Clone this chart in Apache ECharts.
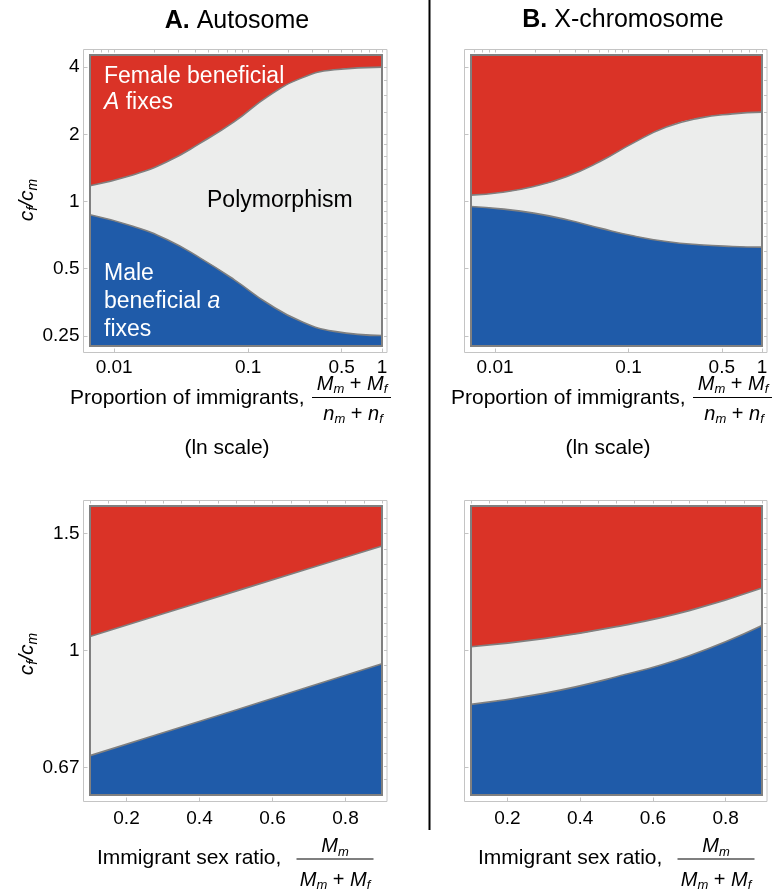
<!DOCTYPE html>
<html><head><meta charset="utf-8">
<script src="https://cdn.jsdelivr.net/npm/echarts@6/dist/echarts.min.js"></script>
<style>html,body{margin:0;padding:0;background:#fff}#c{width:782px;height:892px}</style>
</head><body><div id="c"></div>
<script>
// ---------------- data ----------------
// Top row: proportion of immigrants (ln scale) vs cf/cm (log scale)
const propX_A      = [0.0066, 0.014, 0.025, 0.044, 0.079, 0.14, 0.25, 0.44, 1];
const autoUpperTop = [1.176, 1.317, 1.51, 1.826, 2.28, 2.95, 3.57, 3.89, 4.0];
const autoLowerTop = [0.872, 0.773, 0.674, 0.558, 0.446, 0.350, 0.290, 0.262, 0.251];
const propX_X      = [0.0066, 0.011, 0.0195, 0.0346, 0.0611, 0.108, 0.192, 0.339, 0.6, 1];
const xchrUpperTop = [1.068, 1.097, 1.167, 1.294, 1.51, 1.826, 2.154, 2.364, 2.47, 2.515];
const xchrLowerTop = [0.950, 0.927, 0.887, 0.828, 0.760, 0.702, 0.662, 0.640, 0.629, 0.625];
// Bottom row: immigrant sex ratio vs cf/cm (log scale)
const sexRatio     = [0.1, 0.3, 0.5, 0.7, 0.9];
const autoUpperBot = [1.050, 1.136, 1.228, 1.328, 1.436];
const autoLowerBot = [0.695, 0.752, 0.814, 0.882, 0.955];
const xchrUpperBot = [1.013, 1.042, 1.086, 1.148, 1.241];
const xchrLowerBot = [0.830, 0.862, 0.913, 0.982, 1.090];
// tick labels
const propTickVals  = [0.01, 0.1, 0.5, 1];
const propTickText  = ['0.01', '0.1', '0.5', '1'];
const ratioTopVals  = [0.25, 0.5, 1, 2, 4];
const ratioTopText  = ['0.25', '0.5', '1', '2', '4'];
const ratioBotVals  = [2/3, 1, 1.5];
const ratioBotText  = ['0.67', '1', '1.5'];
const sexTickVals   = [0.2, 0.4, 0.6, 0.8];
const sexTickText   = ['0.2', '0.4', '0.6', '0.8'];
// minor frame tick positions
const propMinorTicks  = [0.007,0.008,0.009,0.01,0.02,0.03,0.04,0.05,0.06,0.07,0.08,0.09,0.1,0.2,0.3,0.4,0.5,0.6,0.7,0.8,0.9,1];
const ratioMinorTop   = [0.25,0.3,0.35,0.4,0.45,0.5,0.6,0.7,0.8,0.9,1,1.2,1.4,1.6,1.8,2,2.5,3,3.5,4];
const ratioMinorBot   = [0.64,0.67,0.7,0.74,0.78,0.82,0.86,0.9,0.95,1,1.05,1.1,1.16,1.22,1.28,1.35,1.42,1.5,1.58];
const sexMinorTicks   = [0.1,0.15,0.2,0.25,0.3,0.35,0.4,0.45,0.5,0.55,0.6,0.65,0.7,0.75,0.8,0.85,0.9];
// axis ranges
const propRange  = [0.0066, 1];
const ratioTopRange = [0.2253, 4.532];
const sexRange   = [0.1, 0.9];
const ratioBotRange = [0.6065, 1.6487];

// ---------------- styling ----------------
const RED = '#DA3327', BLUE = '#1F5BA9', MID = '#ECEDEC', EDGE = '#808080', FRAME = '#c4c4c4';
const FONT = "'Liberation Sans', Arial, Helvetica, sans-serif";
const id = v => v;

const panels = [
  {g:{left:90,  top:55,  width:292, height:291}, xs:propX_A,  up:autoUpperTop, lo:autoLowerTop, kind:'prop', yLab:true,  smooth:0.5},
  {g:{left:471, top:55,  width:291, height:291}, xs:propX_X,  up:xchrUpperTop, lo:xchrLowerTop, kind:'prop', yLab:false, smooth:0.5},
  {g:{left:90,  top:506, width:292, height:289}, xs:sexRatio, up:autoUpperBot, lo:autoLowerBot, kind:'sex',  yLab:true,  smooth:false},
  {g:{left:471, top:506, width:291, height:289}, xs:sexRatio, up:xchrUpperBot, lo:xchrLowerBot, kind:'sex',  yLab:false, smooth:0.5}
];

function fmt(vals, texts, tf) {
  return function (v) {
    for (let i = 0; i < vals.length; i++) if (Math.abs(tf(vals[i]) - v) < 1e-6) return texts[i];
    return '';
  };
}

const grids = [], xAxes = [], yAxes = [], series = [], graphics = [];
const labelStyle = {color:'#000', fontSize:19, fontFamily:FONT};

panels.forEach((p, i) => {
  const isProp = p.kind === 'prop';
  const tx = isProp ? Math.log10 : id;
  const ty = isProp ? Math.log2 : Math.log;
  const xr = isProp ? propRange : sexRange;
  const yr = isProp ? ratioTopRange : ratioBotRange;
  const xMajor = isProp ? propTickVals : sexTickVals;
  const xText = isProp ? propTickText : sexTickText;
  const yMajor = isProp ? ratioTopVals : ratioBotVals;
  const yText = isProp ? ratioTopText : ratioBotText;
  const xMinor = isProp ? propMinorTicks : sexMinorTicks;
  const yMinor = isProp ? ratioMinorTop : ratioMinorBot;

  grids.push(Object.assign({show:true, backgroundColor:RED, borderWidth:0, containLabel:false, outerBoundsMode:'none'}, p.g));
  const tickStyle = {show:true, inside:true, length:4, lineStyle:{color:FRAME, width:1}};
  xAxes.push({
    gridIndex:i, type:'value', position:'bottom', offset:6.5, min:tx(xr[0]), max:tx(xr[1]),
    axisLine:{show:false, onZero:false}, splitLine:{show:false},
    axisTick:Object.assign({customValues:xMajor.map(tx)}, tickStyle),
    axisLabel:Object.assign({show:true, margin:isProp ? 6 : 8, customValues:xMajor.map(tx), formatter:fmt(xMajor, xText, tx)}, labelStyle)
  });
  xAxes.push({
    gridIndex:i, type:'value', position:'top', offset:5.5, min:tx(xr[0]), max:tx(xr[1]),
    axisLine:{show:false, onZero:false}, splitLine:{show:false},
    axisTick:Object.assign({customValues:xMinor.map(tx)}, tickStyle, {length:3}),
    axisLabel:{show:false}
  });
  yAxes.push({
    gridIndex:i, type:'value', position:'left', offset:6.5, min:ty(yr[0]), max:ty(yr[1]),
    axisLine:{show:false, onZero:false}, splitLine:{show:false},
    axisTick:Object.assign({customValues:yMajor.map(ty)}, tickStyle),
    axisLabel:Object.assign({show:p.yLab, margin:4, customValues:yMajor.map(ty), formatter:fmt(yMajor, yText, ty)}, labelStyle)
  });
  yAxes.push({
    gridIndex:i, type:'value', position:'right', offset:5, min:ty(yr[0]), max:ty(yr[1]),
    axisLine:{show:false, onZero:false}, splitLine:{show:false},
    axisTick:Object.assign({customValues:yMinor.map(ty)}, tickStyle, {length:3}),
    axisLabel:{show:false}
  });
  const mk = (arr) => p.xs.map((x, k) => [tx(x), ty(arr[k])]);
  const base = {type:'line', xAxisIndex:2*i, yAxisIndex:2*i, showSymbol:false, symbol:'none',
    smooth:p.smooth, silent:true, animation:false, clip:true,
    lineStyle:{color:EDGE, width:1.6}};
  series.push(Object.assign({}, base, {name:'upper'+i, data:mk(p.up), z:2,
    areaStyle:{color:MID, opacity:1, origin:'start'}}));
  series.push(Object.assign({}, base, {name:'lower'+i, data:mk(p.lo), z:3,
    areaStyle:{color:BLUE, opacity:1, origin:'start'}}));

  // outer light frame and inner region border
  const L = p.g.left, T = p.g.top, W = p.g.width, H = p.g.height;
  graphics.push({type:'rect', z:50, silent:true, shape:{x:L-6.5, y:T-5.5, width:W+11.5, height:H+12},
    style:{fill:null, stroke:FRAME, lineWidth:1}});
  graphics.push({type:'rect', z:60, silent:true, shape:{x:L, y:T, width:W, height:H},
    style:{fill:null, stroke:EDGE, lineWidth:2}});
});

// ---------------- text helpers ----------------
function txt(x, y, text, opt) {
  opt = opt || {};
  const size = opt.size || 21;
  const rich = {
    n:{fontSize:size, fontFamily:FONT, fill:opt.color || '#000', lineHeight:size+4, verticalAlign:'middle'},
    b:{fontSize:size, fontFamily:FONT, fontWeight:'bold', fill:opt.color || '#000', lineHeight:size+4, verticalAlign:'middle'},
    i:{fontSize:size, fontFamily:FONT, fontStyle:'italic', fill:opt.color || '#000', lineHeight:size+4, verticalAlign:'middle'},
    s:{fontSize:Math.round(size*0.65), fontFamily:FONT, fontStyle:'italic', fill:opt.color || '#000', lineHeight:Math.round(size*0.65), verticalAlign:'bottom'}
  };
  return {type:'text', z:100, silent:true, x:x, y:y, rotation:opt.rot || 0,
    style:{text:text, rich:rich, fontSize:size, fontFamily:FONT, fill:opt.color || '#000',
      align:opt.align || 'left', verticalAlign:'middle', textAlign:opt.align || 'left', textVerticalAlign:'middle'}};
}
function hline(x1, x2, y, w, c) {
  return {type:'line', z:100, silent:true, shape:{x1:x1, y1:y, x2:x2, y2:y}, style:{stroke:c || '#000', lineWidth:w || 1.2}};
}

// titles
graphics.push(txt(237, 21, '{b|A.}{n| Autosome}', {size:25, align:'center'}));
graphics.push(txt(623, 20, '{b|B.}{n| X-chromosome}', {size:25, align:'center'}));
// divider
graphics.push({type:'line', z:100, silent:true, shape:{x1:429.5, y1:0, x2:429.5, y2:830}, style:{stroke:'#000', lineWidth:2}});
// region labels (panel A top)
graphics.push(txt(104, 77, '{n|Female beneficial}', {size:23, color:'#fff'}));
graphics.push(txt(104, 103, '{i|A}{n| fixes}', {size:23, color:'#fff'}));
graphics.push(txt(207, 201, '{n|Polymorphism}', {size:23, color:'#000'}));
graphics.push(txt(104, 274, '{n|Male}', {size:23, color:'#fff'}));
graphics.push(txt(104, 302, '{n|beneficial }{i|a}', {size:23, color:'#fff'}));
graphics.push(txt(104, 330, '{n|fixes}', {size:23, color:'#fff'}));
// y axis names
[200, 654].forEach(y => graphics.push(txt(27.5, y, '{i|c}{s|f}{i|/c}{s|m}', {size:21, align:'center', rot:Math.PI/2})));
// x axis titles
[0, 381].forEach(dx => {
  graphics.push(txt(70 + dx, 398, '{n|Proportion of immigrants,}', {size:21}));
  graphics.push(txt(352 + dx, 384, '{i|M}{s|m}{n| + }{i|M}{s|f}', {size:20, align:'center'}));
  graphics.push(hline(312 + dx, 391 + dx, 397.5));
  graphics.push(txt(353 + dx, 414, '{i|n}{s|m}{n| + }{i|n}{s|f}', {size:20, align:'center'}));
  graphics.push(txt(227 + dx, 448, '{n|(ln scale)}', {size:21, align:'center'}));
  graphics.push(txt(97 + dx, 858, '{n|Immigrant sex ratio,}', {size:21}));
  graphics.push(txt(335 + dx, 846.5, '{i|M}{s|m}', {size:20, align:'center'}));
  graphics.push(hline(296.5 + dx, 373.5 + dx, 859));
  graphics.push(txt(335 + dx, 880, '{i|M}{s|m}{n| + }{i|M}{s|f}', {size:20, align:'center'}));
});

const chart = echarts.init(document.getElementById('c'), null, {renderer:'canvas'});
chart.setOption({
  backgroundColor:'#fff', animation:false,
  grid:grids, xAxis:xAxes, yAxis:yAxes, series:series, graphic:graphics
});
</script></body></html>
